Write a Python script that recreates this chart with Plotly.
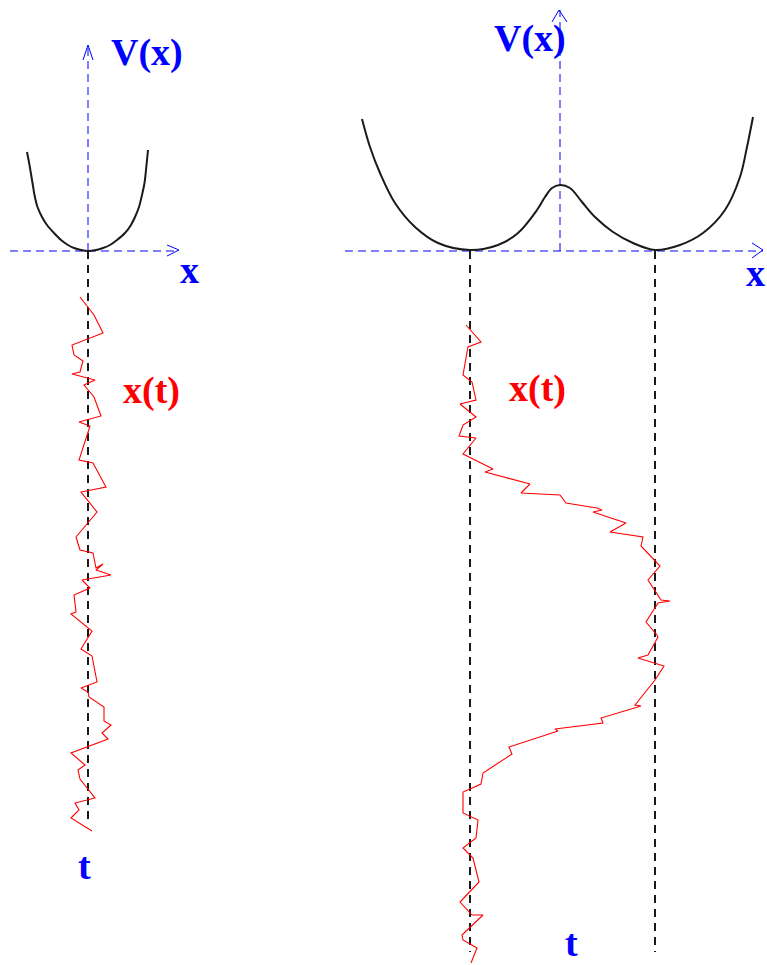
import plotly.graph_objects as go

# ---- Data (figure units: horizontal position, vertical position downward) ----
# Single-well potential (left panel)
well1_x = [27, 29.5, 32.5, 34.5, 37.5, 42, 47, 54, 61, 68, 74, 81, 88,
           96, 103, 110, 117, 125, 131, 135, 139, 142, 144.5, 146.5, 148]
well1_v = [152, 165, 183, 195, 207, 217, 225, 233, 240, 245, 248, 250, 251,
           250, 248, 245, 240, 233, 225, 217, 207, 195, 183, 165, 150]

# Double-well potential (right panel)
well2_x = [362, 370, 380, 395, 415, 438, 470, 498, 518, 537, 545, 552, 560, 570, 582, 595, 613, 633, 655, 680, 703, 725, 740, 747, 753]
well2_v = [119, 147, 173, 203, 227, 243, 250, 245, 233, 210, 197, 188, 185, 188, 202, 217, 232, 243, 250, 245, 233, 210, 177, 147, 117]

# Trajectory x(t) in the single well
traj1_x = [80, 94, 103, 72, 74, 83, 80, 72, 95, 84, 94, 101, 79, 90, 79, 93, 106, 81, 97, 76, 80, 93, 96, 103, 96,
           111, 82, 90, 74, 76, 71, 92, 81, 92, 97, 81, 88, 89, 104, 104, 111, 102, 108, 71, 85, 78, 80, 95, 75, 79,
           71, 92]
traj1_t = [297, 315, 333, 345, 355, 361, 372, 374, 380, 385, 397, 416, 422, 426, 460, 463, 487, 492, 512, 537, 550,
           553, 568, 564, 570, 575, 580, 588, 595, 612, 614, 631, 649, 656, 682, 688, 692, 697, 707, 721, 725, 733,
           739, 753, 765, 770, 779, 798, 803, 810, 818, 831]

# Trajectory x(t) in the double well (hopping between minima)
traj2_x = [466, 481, 468, 463, 472, 476, 460, 476, 463, 459, 476, 463, 469, 493, 485, 530, 521, 560, 566, 597, 602,
           593, 626, 610, 643, 641, 660, 648, 661, 670, 658, 646, 657, 658, 648, 638, 664, 655, 635, 641, 601, 603,
           555, 558, 509, 512, 483, 481, 463, 463, 478, 476, 463, 473, 479, 460, 472, 483, 462, 463, 477, 471]
traj2_t = [325, 342, 347, 375, 382, 400, 404, 417, 425, 436, 438, 454, 457, 469, 472, 484, 493, 495, 503, 508, 510,
           512, 523, 532, 537, 546, 566, 580, 600, 601, 603, 622, 635, 637, 655, 658, 666, 680, 705, 706, 718, 723,
           729, 731, 747, 754, 773, 784, 792, 813, 820, 838, 848, 858, 882, 902, 915, 915, 935, 940, 948, 963]

# Axes / guide positions
left_center, left_base = 88, 251
right_center, right_base = 560, 251
minima2 = [470, 655]

BLUE = "#0000ff"
RED = "#ff0000"
BLACK = "#1a1a1a"
FONT = "Liberation Serif"

fig = go.Figure()

def seg(xs, ys, color, width, dash=None, shape="linear", smoothing=None):
    line = dict(color=color, width=width, dash=dash, shape=shape)
    if smoothing is not None:
        line["smoothing"] = smoothing
    fig.add_trace(go.Scatter(x=xs, y=ys, mode="lines", hoverinfo="skip", showlegend=False, line=line))

blue_dash = "8px,5px"
black_dash = "8px,6px"

# Left panel axes
seg([10, 179], [left_base, left_base], BLUE, 1, blue_dash)
seg([167, 179, 167], [245, 250, 256], BLUE, 1)
seg([left_center, left_center], [left_base, 45], BLUE, 1, blue_dash)
seg([83, 88, 93], [60, 45, 60], BLUE, 1)
# Right panel axes
seg([345, 763], [right_base, right_base], BLUE, 1, blue_dash)
seg([752, 763, 752], [243, 250, 258], BLUE, 1)
seg([right_center, right_center], [right_base, 10], BLUE, 1, blue_dash)
seg([552, 559, 567], [22, 10, 22], BLUE, 1)

# Black dashed time axes
seg([left_center, left_center], [left_base, 820], BLACK, 2, black_dash)
for m in minima2:
    seg([m, m], [right_base, 952], BLACK, 2, black_dash)

# Potentials
seg(well1_x, well1_v, BLACK, 2, shape="spline", smoothing=0.8)
seg(well2_x, well2_v, BLACK, 2, shape="spline")

# Trajectories
seg(traj1_x, traj1_t, RED, 1.1)
seg(traj2_x, traj2_t, RED, 1.1)

labels = [
    ("V(x)", 147, 52, BLUE),
    ("x", 189, 270, BLUE),
    ("x(t)", 151, 390, RED),
    ("t", 84, 866, BLUE),
    ("V(x)", 530, 38, BLUE),
    ("x", 755, 273, BLUE),
    ("x(t)", 537, 388, RED),
    ("t", 571, 943, BLUE),
]
for txt, x, y, c in labels:
    fig.add_annotation(x=x, y=y, xref="x", yref="y", text="<b>%s</b>" % txt, showarrow=False,
                       xanchor="center", yanchor="middle",
                       font=dict(family=FONT, size=38, color=c))

fig.update_xaxes(range=[0, 767], visible=False, fixedrange=True)
fig.update_yaxes(range=[965, 0], visible=False, fixedrange=True)
fig.update_layout(width=767, height=965, margin=dict(l=0, r=0, t=0, b=0),
                  paper_bgcolor="white", plot_bgcolor="white", showlegend=False)

fig.write_html("out.html", config={"displayModeBar": False},
               post_script="document.body.style.margin='0';document.body.style.overflow='hidden';")
